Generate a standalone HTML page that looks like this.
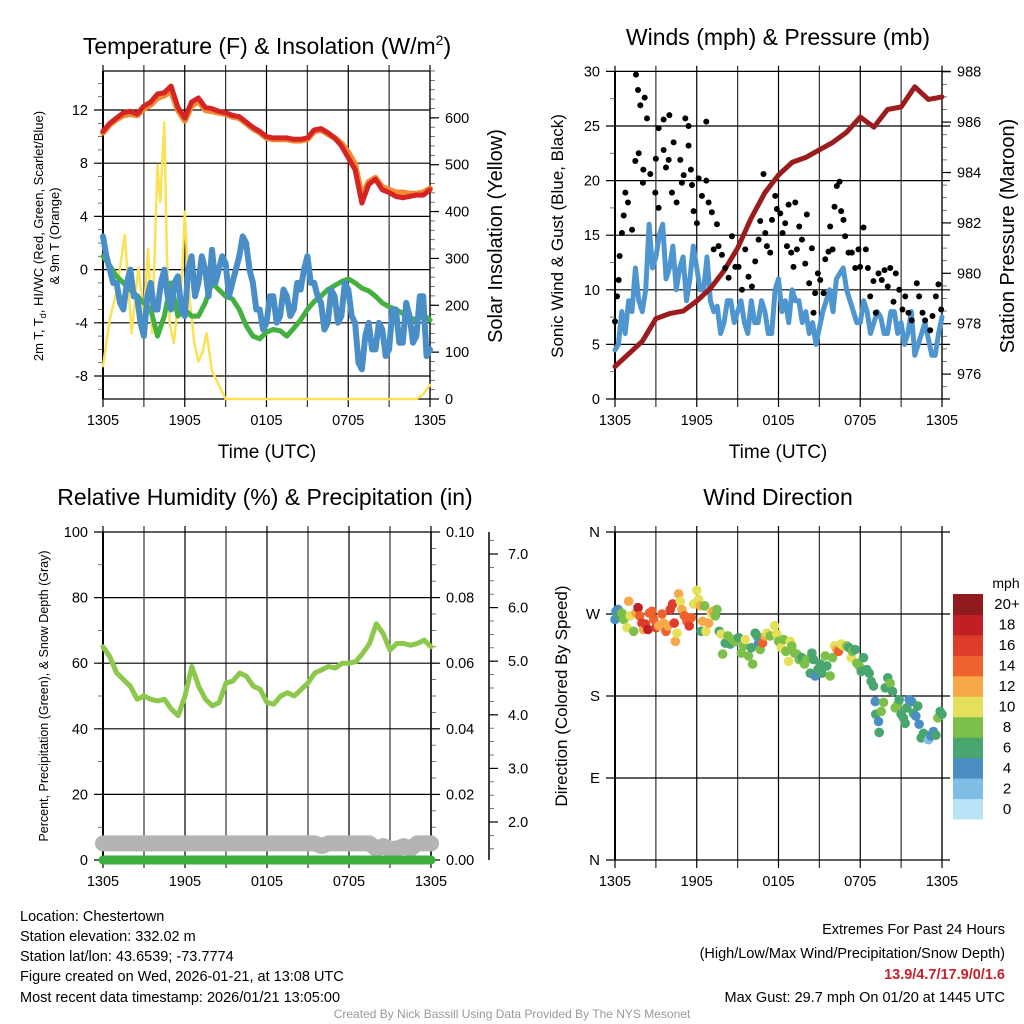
<!DOCTYPE html>
<html><head><meta charset="utf-8"><style>
html,body{margin:0;padding:0;background:#fff}
svg{display:block;font-family:"Liberation Sans",sans-serif}
</style></head><body>
<svg id="s" width="1024" height="1024" viewBox="0 0 1024 1024" xmlns="http://www.w3.org/2000/svg">
<g font-size="23" text-anchor="middle" fill="#000">
<text x="267" y="54">Temperature (F) &amp; Insolation (W/m<tspan dy="-9" font-size="14">2</tspan><tspan dy="9">)</tspan></text>
<text x="778" y="45">Winds (mph) &amp; Pressure (mb)</text>
<text x="265" y="505">Relative Humidity (%) &amp; Precipitation (in)</text>
<text x="778" y="505">Wind Direction</text>
</g>
<g id="layer"></g>
<g font-size="14.5" fill="#000">
<text x="20" y="921">Location: Chestertown</text>
<text x="20" y="941">Station elevation: 332.02 m</text>
<text x="20" y="961">Station lat/lon: 43.6539; -73.7774</text>
<text x="20" y="981">Figure created on Wed, 2026-01-21, at 13:08 UTC</text>
<text x="20" y="1002">Most recent data timestamp: 2026/01/21 13:05:00</text>
<g text-anchor="end">
<text x="1005" y="934">Extremes For Past 24 Hours</text>
<text x="1005" y="958">(High/Low/Max Wind/Precipitation/Snow Depth)</text>
<text x="1005" y="979" fill="#c8202a" font-weight="bold">13.9/4.7/17.9/0/1.6</text>
<text x="1005" y="1002">Max Gust: 29.7 mph On 01/20 at 1445 UTC</text>
</g>
<text x="512" y="1018" font-size="12" fill="#999" text-anchor="middle">Created By Nick Bassill Using Data Provided By The NYS Mesonet</text>
</g>
</svg>
<script>
// ---------- data ----------
const timeLabels = ["1305","1905","0105","0705","1305"];
const halfHours = [0,0.5,1,1.5,2,2.5,3,3.5,4,4.5,5,5.5,6,6.5,7,7.5,8,8.5,9,9.5,10,10.5,11,11.5,12,12.5,13,13.5,14,14.5,15,15.5,16,16.5,17,17.5,18,18.5,19,19.5,20,20.5,21,21.5,22,22.5,23,23.5,24];
const temp2m = [10.4,11,11.4,11.8,11.9,11.7,12.3,12.6,13.2,13.3,13.8,12.2,11.4,12.6,12.9,12.2,12.1,11.9,11.8,11.6,11.5,11.1,10.7,10.4,10,9.9,9.9,9.9,9.8,9.8,9.9,10.5,10.6,10.3,9.9,9.3,8.4,7.5,5,6.4,6.8,6,5.8,5.5,5.4,5.5,5.6,5.6,6];
const temp9m = [10.3,10.9,11.3,11.6,11.7,11.6,12.1,12.4,12.9,13.1,13.4,12.0,11.2,12.3,12.7,12.0,11.9,11.8,11.7,11.5,11.4,11.0,10.6,10.3,9.9,9.8,9.8,9.8,9.7,9.7,9.8,10.4,10.5,10.2,9.9,9.5,8.8,7.9,5.5,6.6,6.9,6.2,6.0,5.8,5.8,5.7,5.7,5.8,6.1];
const dewpoint = [2.5,1,0,-1,-1,-2.5,-3,-1,0,-2,-2,-4,-5,-2,-1,-3,-3,-1,0,-2,-3,-1,-0.5,-3,-3.5,0,1,-2,-1,1,0,-2,1.5,-1,0,1,0.5,-2,-1,0,1,2.5,2,0,-1,-3,-3,-4.5,-4,-2,-2,-4,-3.5,-1.5,-2,-3.5,-3,-1,-1.5,0,1,-1,-1,-2,-2.5,-4.5,-4,-1.5,-2,-4,-3.5,-1,-1.5,-3.5,-4,-7,-7.5,-5,-4,-6,-6,-4,-4.5,-6.5,-6,-3,-3,-5.5,-5.5,-2.5,-3.5,-5.5,-5,-2,-2,-6.5,-6];
const windChill = [1,0.3,-0.5,-1,-1.5,-2,-2.5,-3,-5,-3.5,-1,-3.5,-3,-3.5,-3.5,-2.5,-1,-1.5,-2,-2.2,-3,-4.2,-5,-5.2,-4.7,-4.5,-4.6,-5,-4.4,-3.8,-3,-2.4,-2,-1.5,-1.2,-0.9,-0.7,-1,-1.4,-1.6,-2,-2.5,-2.8,-3,-3.3,-3.6,-3.8,-3.4,-3.8];
const solarTimes = [0,0.5,1,1.6,2.1,2.6,3,3.3,3.6,4,4.2,4.5,4.7,4.9,5.2,5.5,5.8,6,6.3,6.7,7,7.3,7.6,8,8.5,9,12,18,23,23.5,24];
const solarVals  = [70,170,230,350,140,280,180,320,140,500,420,590,300,160,120,200,260,400,230,120,80,100,140,60,30,0,0,0,0,10,30];
const sonicWind = [4.5,5,8,6,9,8,12,9,8,10,16,12,13,15,16,11,12,14,10,12,13,9,11,14,12,10,10,13,9,8,8.5,6,7,9,9,7,8,9,7,6,9,7,7,9,8,6,6,10,11,8,9,7,10,9,9,7,8,6,7,5,6.5,8,9,10,8,11,11.5,12,10,9,8,7,7,9,8,6,7,8,7.5,6,6,8,8,6,7,5,6,8,4,5,6,7,5.5,4,4,6,7.5];
const pressTimes = [0,1,2,3,4,5,6,7,8,9,10,11,12,13,14,15,16,17,18,19,20,21,22,23,24];
const pressure = [976.3,976.8,977.3,978.2,978.4,978.5,978.9,979.4,980.1,981.0,982.2,983.2,983.9,984.4,984.6,984.9,985.2,985.6,986.2,985.8,986.5,986.6,987.4,986.9,987.0];
const gustTimes = [0,0.15,0.27,0.34,0.51,0.64,0.76,0.95,1.25,1.54,1.69,1.86,2.18,2.35,1.74,1.49,2.08,2.05,2.59,2.96,3.2,3.2,3.0,3.57,3.57,3.99,3.74,3.94,4.3,4.18,4.52,4.79,4.91,5.16,5.4,5.4,5.04,5.57,5.65,5.77,6.01,6.14,6.38,6.7,6.7,6.87,7.11,7.24,7.48,7.6,7.85,8.09,8.34,8.58,8.83,9.07,9.32,9.56,9.8,10.05,10.29,10.54,10.66,10.9,11.03,11.15,11.39,11.52,11.76,11.88,12.13,12.3,12.49,12.62,12.74,12.93,13.1,13.23,13.35,13.52,13.72,13.96,14.08,14.25,14.45,14.57,14.69,14.89,15.06,15.31,15.43,15.67,15.79,15.97,16.11,16.28,16.48,16.6,16.77,16.89,17.14,17.38,17.63,17.87,17.99,18.24,18.41,18.56,18.73,18.97,19.14,19.34,19.58,19.78,20.02,20.2,20.44,20.61,20.86,21.1,21.3,21.54,21.78,22.15,22.32,22.57,22.76,23.13,23.3,23.55,23.74,23.94];
const gustVals = [7.1,9.4,10.9,13.1,15.2,16.8,18.9,18,15.5,29.7,28.3,26.9,27.6,25.7,22.5,21.8,21,19.8,20.6,18.9,17.5,24.8,22,22.8,25.6,26,21.2,21.9,23.5,18.9,18,21.9,19.8,25.7,25,23.2,20.5,21,19.6,17.2,16.1,20.2,18.6,25.4,20,18,17.1,13.7,16,14,13.2,12,11.1,14.9,12.1,12.1,10,13.7,11.2,10.3,12.6,14.6,16.3,20.6,15.2,14,13.4,16.4,18.6,17.4,17,15.2,16.1,14,17.8,13.4,12.1,18,13.7,15.8,14.6,12.4,16.9,10.6,13.8,7.9,9.7,11.5,10.9,9.7,12.8,13.5,15.8,13.7,17.6,19.5,19.9,17.2,16.4,14.9,13.4,13.4,12,13.7,12.1,15.7,13.7,12,9.4,10.8,7.9,11.5,10.9,11.8,10.3,12,8.9,11.5,10,8.2,9.4,7.9,7.2,10.6,9.4,7.9,7.2,6.3,7.6,9.4,10.5,8.2];
const rhVals = [65,62,57,55,53,49,50,49,48.5,49,46,44,50,59,53,49,47,48,54,54.5,57,56,53,52,48,47.5,50,51,50,52,54,57,58,59,58.5,60,60,60.5,63,66,72,69,64,66,66,65.5,66,67,65];
const precipVals = [0,0,0,0,0,0,0,0,0,0,0,0,0,0,0,0,0,0,0,0,0,0,0,0,0,0,0,0,0,0,0,0,0,0,0,0,0,0,0,0,0,0,0,0,0,0,0,0,0];
const snowVals = [1.6,1.6,1.6,1.6,1.6,1.6,1.6,1.6,1.6,1.6,1.6,1.6,1.6,1.6,1.6,1.6,1.6,1.6,1.6,1.6,1.6,1.6,1.6,1.6,1.6,1.6,1.6,1.6,1.6,1.6,1.6,1.6,1.55,1.6,1.6,1.6,1.6,1.6,1.6,1.6,1.5,1.55,1.5,1.5,1.55,1.5,1.6,1.6,1.6];
const dirTimes = [0,0.07,0.22,0.32,0.51,0.64,0.88,1.0,1.12,1.37,1.54,1.69,1.81,1.98,2.1,2.22,2.42,2.52,2.71,2.84,3.01,3.2,3.45,3.57,3.74,3.89,4.06,4.23,4.35,4.43,4.55,4.67,4.79,4.91,5.09,5.28,5.45,5.6,5.77,6.01,6.14,6.26,6.33,6.43,6.58,6.68,6.87,7.07,7.19,7.36,7.48,7.65,7.8,7.9,8.09,8.29,8.46,8.63,8.83,9.07,9.27,9.44,9.56,9.8,10.0,10.1,10.29,10.42,10.54,10.66,10.83,11.03,11.15,11.39,11.71,11.88,12.0,12.2,12.37,12.54,12.74,12.86,12.98,13.18,13.35,13.52,13.72,13.91,14.08,14.33,14.45,14.57,14.69,14.89,15.06,15.18,15.43,15.55,15.79,15.97,16.11,16.28,16.41,16.6,16.77,17.02,17.19,17.34,17.43,17.63,17.75,17.92,18.07,18.24,18.48,18.66,18.8,18.97,19.1,19.14,19.34,19.39,19.54,19.71,19.83,20.02,20.2,20.37,20.56,20.76,20.86,21.0,21.17,21.3,21.42,21.59,21.78,21.9,22.08,22.22,22.32,22.47,22.64,22.81,23.0,23.2,23.37,23.55,23.69,23.86,24.0];
const dirDegrees = [264,273,275,268,271,264,255,284,268,251,271,277,268,260,253,259,253,271,273,264,255,257,270,260,251,257,275,281,260,240,249,292,284,275,268,262,257,266,281,296,286,279,251,262,279,251,260,271,273,268,275,251,248,226,238,246,237,242,240,244,227,235,242,224,233,215,249,246,238,231,238,246,249,246,257,248,240,233,242,229,218,240,235,227,226,220,222,215,220,205,227,220,202,209,215,205,224,213,202,222,235,231,229,237,235,235,233,222,229,231,216,213,207,222,209,205,196,191,174,160,152,140,163,173,189,200,194,185,167,171,176,160,156,150,167,176,174,161,158,169,149,134,139,137,132,136,141,137,156,163,160];
const dirSpeeds = [4,4,4,6,8,8,10,12,10,8,12,18,14,16,12,16,18,14,14,14,16,12,14,12,14,12,16,16,16,12,10,12,10,12,14,14,16,14,10,10,10,12,6,12,8,10,12,10,12,8,8,6,10,8,6,8,6,8,8,6,8,8,10,8,6,8,6,6,4,8,14,12,10,8,10,10,8,10,8,8,10,10,8,8,8,8,6,8,8,6,6,6,4,6,6,6,8,6,8,8,10,12,14,10,10,8,6,10,8,6,8,8,6,6,6,6,6,6,4,6,4,6,8,8,6,6,8,6,8,8,6,6,6,6,6,4,4,6,4,6,4,6,6,6,2,4,4,6,8,6,6];
const speedBinLabels = ["0","2","4","6","8","10","12","14","16","18","20+"];
const speedColors = ["#b9e3f7","#80bde5","#4a8ec4","#48a66e","#7cc04a","#e4e05a","#f7a848","#ef622d","#de3b2a","#c01f26","#901a1e"];

// ---------- helpers ----------
const NS="http://www.w3.org/2000/svg";
const layer=document.getElementById('layer');
function mk(tag,attrs,parent){const e=document.createElementNS(NS,tag);for(const k in attrs)e.setAttribute(k,attrs[k]);(parent||layer).appendChild(e);return e;}
function group(name){const g=mk('g',{});return g;}
function txt(parent,x,y,s,size,anchor,name,rot){const t=mk('text',{x:x,y:y,'font-size':size,'text-anchor':anchor||'middle'},parent);if(rot)t.setAttribute('transform','rotate(-90 '+x+' '+y+')');t.textContent=s;

return t;}
function line(parent,x1,y1,x2,y2,w,c){return mk('line',{x1:x1,y1:y1,x2:x2,y2:y2,stroke:c||'#000','stroke-width':w||1},parent);}
function steps(n,dt){const r=[];for(let i=0;i<n;i++)r.push(i*dt);return r;}
function poly(parent,ts,vs,xf,yf,color,w,name){let d='';for(let i=0;i<vs.length;i++){d+=(i?'L':'M')+xf(ts[i]).toFixed(1)+','+yf(vs[i]).toFixed(1);}
const p=mk('path',{d:d,fill:'none',stroke:color,'stroke-width':w,'stroke-linejoin':'round','stroke-linecap':'round'},parent);

return p;}
const quarterHours=steps(dewpoint.length,24/(dewpoint.length-1));
const windQuarterHours=steps(sonicWind.length,24/(sonicWind.length-1));

function frame(P,name){
  const g=group(name+'-axes');
  const xs=t=>P.x0+t/24*(P.x1-P.x0);
  for(let h=0;h<=24;h+=3){line(g,xs(h),P.y0-6,xs(h),P.y1+8,1.2,h%6?'#333':'#000');}
  for(let i=0;i<timeLabels.length;i++){txt(g,xs(i*6),P.y1+26,timeLabels[i],14.5,'middle','x-tick-label');}
  line(g,P.x0,P.y0,P.x0,P.y1,2);
  return {g,xs};
}
function yTicks(g,P,side,vals,yf,labels,minor,size){
  const x=side==='L'?P.x0:P.x1;
  for(const m of minor){line(g,side==='L'?x-5:x,yf(m),side==='L'?x:x+5,yf(m),0.8,'#555');}
  vals.forEach((v,i)=>{
    const y=yf(v);
    if(side==='L'){line(g,x-9,y,P.x1+(P.gridR||0),y,1.2);txt(g,x-15,y+5,labels[i],size||14.5,'end','y-tick-label');}
    else{line(g,P.x1,y,P.x1+9,y,1.2);txt(g,P.x1+15,y+5,labels[i],size||14.5,'start','y2-tick-label');}
  });
}
function range(a,b,s){const r=[];for(let v=a;v<=b+1e-9;v+=s)r.push(+v.toFixed(4));return r;}

// ---------- panel 1 ----------
{
const P={x0:103,x1:430,y0:71,y1:399,gridR:0};
const {g,xs}=frame(P,'temperature');
const yT=v=>110+(12-v)*13.3, yS=w=>399-w*0.4686;
const tv=range(-8,12,4);
yTicks(g,P,'L',tv,yT,tv.map(String),range(-9,14,1).filter(v=>yT(v)>=P.y0),14.5);
const sv=range(0,600,100);
yTicks(g,P,'R',sv,yS,sv.map(String),range(0,700,20),14.5);
line(g,P.x0,P.y0,P.x1,P.y0,1.2);line(g,P.x0,P.y1,P.x1,P.y1,1.2);line(g,P.x1,P.y0,P.x1,P.y1,1.2);
const s=group('temperature-series');
poly(s,solarTimes,solarVals,xs,yS,'#fbe153',2.5,'solar-insolation-line');
poly(s,halfHours,windChill,xs,yT,'#43b040',5,'wind-chill-line');
poly(s,quarterHours,dewpoint,xs,yT,'#4a8ec8',6,'dewpoint-line');
poly(s,halfHours,temp9m,xs,yT,'#f08a30',6,'temp-9m-line');
poly(s,halfHours,temp2m,xs,yT,'#d42424',5,'temp-2m-line');
txt(g,267,458,'Time (UTC)',19,'middle','x-axis-title');
const t=txt(g,43,236,'',13,'middle','y-axis-title',true);
t.innerHTML='2m T, T<tspan dy="3" font-size="9">d</tspan><tspan dy="-3">, HI/WC (Red, Green, Scarlet/Blue)</tspan>';
txt(g,59,236,'& 9m T (Orange)',13,'middle','y-axis-title-line2',true);
txt(g,502,236,'Solar Insolation (Yellow)',20,'middle','y2-axis-title',true);
}
// ---------- panel 2 ----------
{
const P={x0:615,x1:942,y0:71.7,y1:399,gridR:8};
const {g,xs}=frame(P,'winds');
const yW=v=>399-v*10.92, yP=p=>71.7+(988-p)*25.2;
const wv=range(0,30,5);
yTicks(g,P,'L',wv,yW,wv.map(String),range(0,30,2.5),14.5);
const pv=range(976,988,2);
yTicks(g,P,'R',pv,yP,pv.map(String),range(975.5,988,0.5),14.5);
line(g,P.x1,P.y0,P.x1,P.y1,1.2);
const s=group('wind-series');
poly(s,windQuarterHours,sonicWind,xs,yW,'#4f96d0',5,'sonic-wind-line');
const dg=group('gust-dots');
for(let i=0;i<gustTimes.length;i++){const c=mk('circle',{cx:xs(gustTimes[i]),cy:yW(gustVals[i]),r:3,fill:'#000'},dg);

}
poly(s,pressTimes,pressure,xs,yP,'#9b1c1c',5,'pressure-line');
txt(g,778,458,'Time (UTC)',19,'middle','x-axis-title');
txt(g,563,236,'Sonic Wind & Gust (Blue, Black)',17,'middle','y-axis-title',true);
txt(g,1014,236,'Station Pressure (Maroon)',20,'middle','y2-axis-title',true);
}
// ---------- panel 3 ----------
{
const P={x0:103,x1:431,y0:532,y1:860,gridR:0};
const {g,xs}=frame(P,'humidity');
const yR=v=>860-v*3.28, yPr=v=>860-v*3280, ySn=v=>822-(v-2)*53.6;
const rv=range(0,100,20);
yTicks(g,P,'L',rv,yR,rv.map(String),range(0,100,10),14.5);
const prv=range(0,0.1,0.02);
yTicks(g,P,'R',prv,yPr,prv.map(v=>v.toFixed(2)),range(0,0.1,0.005),14.5);
line(g,P.x1,P.y0,P.x1,P.y1,1.5);
const ax=group('snow-depth-axis');
line(ax,489,532,489,860,1.5);
for(const m of range(1.5,7.25,0.25)){line(ax,489,ySn(m),494,ySn(m),0.8,'#555');}
for(const v of range(2,7,1)){line(ax,489,ySn(v),498,ySn(v),1.2);txt(ax,508,ySn(v)+5,v.toFixed(1),14.5,'start','snow-tick-label');}
const s=group('humidity-series');
poly(s,halfHours,snowVals,xs,ySn,'#b4b4b4',16,'snow-depth-line');
poly(s,halfHours,precipVals,xs,yPr,'#3cae3c',9,'precipitation-line');
poly(s,halfHours,rhVals,xs,yR,'#8cc84b',5,'relative-humidity-line');
txt(g,48,696,'Percent, Precipitation (Green), & Snow Depth (Gray)',12.5,'middle','y-axis-title',true);
}
// ---------- panel 4 ----------
{
const P={x0:615,x1:942,y0:532,y1:860,gridR:8};
const {g,xs}=frame(P,'wind-direction');
const yD=d=>860-d*328/360;
const dv=[0,90,180,270,360];
yTicks(g,P,'L',dv,yD,['N','E','S','W','N'],[],15);
line(g,P.x1,P.y0,P.x1,P.y1,1.2);
const dg=group('direction-dots');
for(let i=0;i<dirTimes.length;i++){const bi=Math.min(10,Math.floor(dirSpeeds[i]/2));
const c=mk('circle',{cx:xs(dirTimes[i]),cy:yD(dirDegrees[i]),r:4.8,fill:speedColors[bi]},dg);

}
txt(g,567,696,'Direction (Colored By Speed)',17,'middle','y-axis-title',true);
const cb=group('speed-colorbar');
const h=(819-594)/speedColors.length;
for(let i=0;i<speedColors.length;i++){const y=819-(i+1)*h;
const r=mk('rect',{x:953,y:y,width:30,height:h+0.5,fill:speedColors[i]},cb);


txt(cb,1007,y+h/2+5,speedBinLabels[i],15,'middle','colorbar-label');}
txt(cb,1006,588,'mph',14,'middle','colorbar-title');
}
</script>
</body></html>
